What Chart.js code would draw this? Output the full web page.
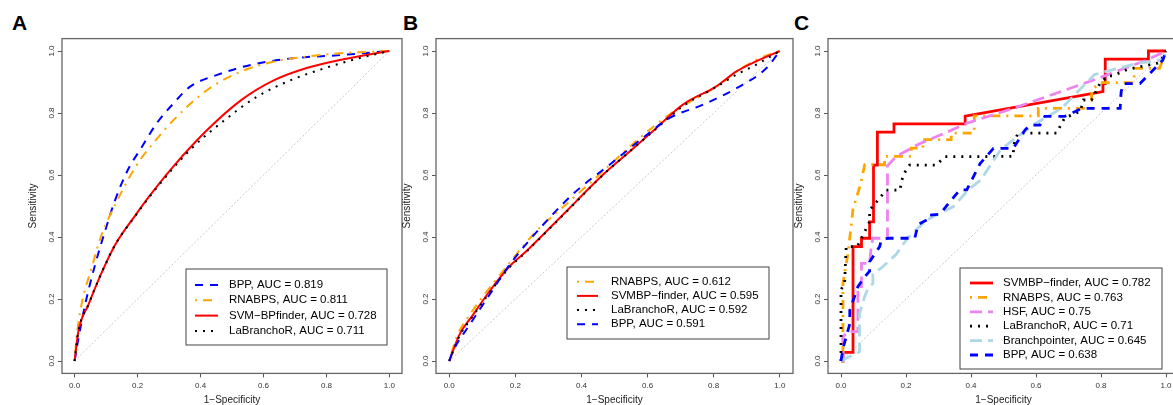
<!DOCTYPE html>
<html>
<head>
<meta charset="utf-8">
<script src="https://cdn.jsdelivr.net/npm/chart.js@4/dist/chart.umd.min.js"></script>
<style>
  html, body { margin: 0; padding: 0; background: #fff; overflow: hidden; width: 1173px; height: 405px; }
  canvas { position: absolute; left: 0; top: 0; }
  .tag { position: absolute; top: 11px; font: bold 21px "Liberation Sans", Arial, sans-serif; color: #000; }
</style>
</head>
<body>
<div class="tag" style="left:12px">A</div>
<div class="tag" style="left:403px">B</div>
<div class="tag" style="left:794px">C</div>
<canvas id="chartA" width="1190" height="405"></canvas>
<canvas id="chartB" width="1190" height="405"></canvas>
<canvas id="chartC" width="1190" height="405"></canvas>
<script>
const FONT = '"Liberation Sans", Arial, sans-serif';

// axis ticks (both axes, all panels)
const tickValues = [0, 0.2, 0.4, 0.6, 0.8, 1.0];
const tickLabels = ["0.0", "0.2", "0.4", "0.6", "0.8", "1.0"];
const diagonal = [[0, 0], [1, 1]];

// panel A : [1-specificity, sensitivity]
const namesA = ["BPP", "RNABPS", "SVM−BPfinder", "LaBranchoR"];
const aucA = ["0.819", "0.811", "0.728", "0.711"];
const keysA = ["bpp", "rnabps", "svm", "labranchor"];
const aBPP = [[0,0],[0.01,0.06],[0.033,0.18],[0.065,0.31],[0.097,0.42],[0.129,0.52],[0.171,0.62],[0.208,0.681],[0.261,0.767],[0.314,0.831],[0.367,0.885],[0.453,0.923],[0.559,0.955],[0.687,0.976],[0.847,0.987],[1,1]];
const aRNABPS = [[0,0],[0.006,0.074],[0.022,0.182],[0.054,0.3],[0.086,0.408],[0.129,0.504],[0.17,0.585],[0.208,0.648],[0.26,0.715],[0.314,0.777],[0.421,0.874],[0.527,0.933],[0.634,0.966],[0.74,0.982],[0.847,0.993],[1,1]];
const aSVM = [[0,0],[0.012,0.096],[0.044,0.182],[0.086,0.285],[0.129,0.375],[0.193,0.47],[0.24,0.535],[0.314,0.628],[0.421,0.745],[0.527,0.84],[0.634,0.906],[0.74,0.946],[0.847,0.972],[0.953,0.992],[1,1]];
const aLaBranchoR = [[0,0],[0.012,0.096],[0.044,0.182],[0.086,0.285],[0.129,0.375],[0.193,0.468],[0.25,0.545],[0.367,0.681],[0.474,0.775],[0.58,0.853],[0.687,0.906],[0.793,0.944],[0.9,0.976],[1,1]];

// panel B
const namesB = ["RNABPS", "SVMBP−finder", "LaBranchoR", "BPP"];
const aucB = ["0.612", "0.595", "0.592", "0.591"];
const keysB = ["rnabps", "svm", "labranchor", "bpp"];
const bRNABPS = [[0,0],[0.021,0.074],[0.062,0.149],[0.162,0.289],[0.263,0.418],[0.364,0.515],[0.465,0.612],[0.566,0.71],[0.667,0.796],[0.768,0.86],[0.818,0.891],[0.869,0.934],[0.94,0.977],[1,1]];
const bSVM = [[0,0],[0.031,0.085],[0.072,0.149],[0.122,0.225],[0.178,0.3],[0.233,0.354],[0.304,0.429],[0.384,0.515],[0.465,0.601],[0.546,0.676],[0.627,0.752],[0.707,0.827],[0.808,0.886],[0.869,0.934],[0.929,0.967],[1,1]];
const bLaBranchoR = [[0,0],[0.031,0.08],[0.072,0.145],[0.122,0.22],[0.178,0.297],[0.233,0.352],[0.304,0.427],[0.384,0.513],[0.465,0.6],[0.546,0.676],[0.627,0.75],[0.707,0.822],[0.808,0.884],[0.869,0.924],[0.929,0.956],[1,1]];
const bBPP = [[0,0],[0.011,0.031],[0.062,0.117],[0.122,0.214],[0.183,0.311],[0.294,0.451],[0.384,0.548],[0.485,0.633],[0.586,0.72],[0.667,0.784],[0.768,0.827],[0.869,0.88],[0.96,0.945],[1,1]];

// panel C
const namesC = ["SVMBP−finder", "RNABPS", "HSF", "LaBranchoR", "Branchpointer", "BPP"];
const aucC = ["0.782", "0.763", "0.75", "0.71", "0.645", "0.638"];
const keysC = ["svm", "rnabps", "hsf", "labranchor", "branchpointer", "bpp"];
const cSVM = [[0,0],[0.006,0],[0.006,0.028],[0.037,0.028],[0.037,0.369],[0.063,0.369],[0.063,0.396],[0.088,0.396],[0.088,0.449],[0.1,0.449],[0.1,0.632],[0.112,0.632],[0.112,0.738],[0.163,0.738],[0.163,0.765],[0.382,0.765],[0.382,0.79],[0.806,0.869],[0.806,0.895],[0.813,0.895],[0.813,0.974],[0.946,0.974],[0.946,1],[1,1]];
const cRNABPS = [[0,0],[0.006,0],[0.006,0.25],[0.022,0.35],[0.037,0.49],[0.06,0.57],[0.073,0.633],[0.134,0.633],[0.134,0.66],[0.216,0.66],[0.216,0.687],[0.252,0.687],[0.252,0.714],[0.339,0.714],[0.339,0.735],[0.41,0.735],[0.41,0.791],[0.607,0.791],[0.607,0.815],[0.771,0.815],[0.771,0.874],[0.797,0.898],[0.9,0.898],[0.905,0.944],[0.98,0.944],[0.99,0.971],[1,1]];
const cHSF = [[0,0],[0.006,0],[0.006,0.078],[0.022,0.095],[0.052,0.095],[0.052,0.24],[0.063,0.24],[0.063,0.315],[0.088,0.315],[0.093,0.369],[0.098,0.396],[0.143,0.396],[0.143,0.63],[0.17,0.66],[0.24,0.7],[0.33,0.74],[0.387,0.767],[0.53,0.815],[0.776,0.906],[0.941,0.971],[1,1]];
const cLaBranchoR = [[0,0],[0,0.23],[0.011,0.25],[0.016,0.369],[0.05,0.369],[0.063,0.396],[0.088,0.449],[0.088,0.487],[0.114,0.519],[0.139,0.551],[0.181,0.551],[0.191,0.6],[0.211,0.632],[0.293,0.632],[0.319,0.659],[0.529,0.66],[0.534,0.71],[0.545,0.735],[0.663,0.735],[0.688,0.784],[0.736,0.805],[0.746,0.842],[0.771,0.842],[0.797,0.895],[0.82,0.92],[0.836,0.92],[0.88,0.94],[0.906,0.946],[0.98,0.962],[1,1]];
const cBranchpointer = [[0,0],[0.057,0.03],[0.057,0.153],[0.073,0.208],[0.083,0.234],[0.098,0.25],[0.098,0.28],[0.124,0.3],[0.17,0.344],[0.18,0.36],[0.206,0.398],[0.264,0.455],[0.305,0.476],[0.346,0.498],[0.39,0.55],[0.43,0.584],[0.49,0.68],[0.53,0.713],[0.59,0.761],[0.68,0.816],[0.76,0.903],[0.78,0.924],[0.91,0.96],[0.99,0.971],[1,1]];
const cBPP = [[0,0],[0.006,0.04],[0.027,0.12],[0.027,0.163],[0.052,0.24],[0.073,0.272],[0.088,0.29],[0.088,0.32],[0.119,0.369],[0.124,0.39],[0.145,0.396],[0.227,0.396],[0.237,0.44],[0.264,0.455],[0.268,0.47],[0.305,0.474],[0.34,0.52],[0.366,0.552],[0.387,0.552],[0.428,0.637],[0.469,0.686],[0.53,0.686],[0.566,0.745],[0.582,0.761],[0.612,0.761],[0.627,0.789],[0.688,0.789],[0.741,0.815],[0.859,0.815],[0.862,0.869],[0.869,0.895],[0.92,0.895],[0.99,0.97],[1,1]];

// line look per method
const styles = {
  bpp:           { color: "#0000FF", dash: [8, 7] },
  rnabps:        { color: "#FFA500", dash: [2, 6, 9, 6] },
  svm:           { color: "#FF0000", dash: [] },
  labranchor:    { color: "#000000", dash: [2, 6] },
  hsf:           { color: "#EE82EE", dash: [12, 6] },
  branchpointer: { color: "#ADD8E6", dash: [12, 6] }
};

// draws the box round the plot region
const frame = {
  id: "frame",
  afterDatasetsDraw(chart) {
    const { ctx, chartArea: a } = chart;
    ctx.save();
    ctx.strokeStyle = "#666";
    ctx.lineWidth = 1.3;
    ctx.strokeRect(a.left, a.top, a.right - a.left, a.bottom - a.top);
    ctx.restore();
  }
};

// R-style legend box in the lower right
const boxLegend = {
  id: "boxLegend",
  afterDraw(chart, args, o) {
    const { ctx, chartArea } = chart;
    const x0 = chartArea.left + o.left, y0 = chartArea.top + o.top;
    ctx.save();
    ctx.fillStyle = "#fff";
    ctx.fillRect(x0, y0, o.width, o.height);
    ctx.strokeStyle = "#444";
    ctx.lineWidth = 1;
    ctx.strokeRect(x0, y0, o.width, o.height);
    ctx.font = "11.5px " + FONT;
    ctx.textBaseline = "middle";
    chart.data.datasets.forEach(ds => {
      if (ds.legendRow === undefined) return;
      const y = y0 + o.row0 + ds.legendRow * o.gap;
      ctx.beginPath();
      ctx.setLineDash(ds.borderDash);
      ctx.strokeStyle = ds.borderColor;
      ctx.lineWidth = ds.borderWidth;
      ctx.moveTo(x0 + o.lineX0, y);
      ctx.lineTo(x0 + o.lineX1, y);
      ctx.stroke();
      ctx.setLineDash([]);
      ctx.fillStyle = "#000";
      ctx.fillText(ds.label, x0 + o.textX, y);
    });
    ctx.restore();
  }
};

function setTicks(axis) {
  axis.ticks = tickValues.map(v => ({ value: v }));
}

function axisOpts(title, isY) {
  return {
    type: "linear",
    min: -0.04,
    max: 1.04,
    afterBuildTicks: setTicks,
    afterFit: isY ? s => { s.width = 62; } : s => { s.height = 31.6; },
    border: { display: false },
    grid: { drawOnChartArea: false, drawTicks: true, tickLength: 4, color: "#555" },
    ticks: {
      callback: (v, i) => tickLabels[i],
      font: { family: FONT, size: 8 },
      color: "#333",
      autoSkip: false,
      padding: isY ? 1 : 4,
      minRotation: isY ? 90 : 0,
      maxRotation: isY ? 90 : 0,
      crossAlign: isY ? "center" : "near"
    },
    title: {
      display: true,
      text: title,
      color: "#222",
      font: { family: FONT, size: 10 },
      padding: isY ? { top: 27 } : { bottom: -1.5 }
    }
  };
}

function makeChart(id, padLeft, padRight, names, aucs, keys, series, width, legend) {
  const datasets = series.map((pts, i) => ({
    label: names[i] + ", AUC = " + aucs[i],
    data: pts.map(p => ({ x: p[0], y: p[1] })),
    borderColor: styles[keys[i]].color,
    borderDash: styles[keys[i]].dash,
    borderWidth: width,
    cubicInterpolationMode: legend.smooth ? "monotone" : "default",
    showLine: true,
    pointRadius: 0,
    order: -i,
    legendRow: i
  }));
  datasets.push({
    data: diagonal.map(p => ({ x: p[0], y: p[1] })),
    borderColor: "#c8c8c8",
    borderDash: [2, 2],
    borderWidth: 1,
    showLine: true,
    pointRadius: 0,
    order: 10
  });

  return new Chart(document.getElementById(id), {
    type: "scatter",
    data: { datasets },
    options: {
      responsive: false,
      animation: false,
      events: [],
      layout: { padding: { left: padLeft, right: padRight, top: 38.6, bottom: 0 } },
      plugins: {
        legend: { display: false },
        tooltip: { enabled: false },
        boxLegend: legend
      },
      scales: {
        x: axisOpts("1−Specificity", false),
        y: axisOpts("Sensitivity", true)
      }
    },
    plugins: [frame, boxLegend]
  });
}

makeChart("chartA", 0, 788, namesA, aucA, keysA,
  [aBPP, aRNABPS, aSVM, aLaBranchoR], 2,
  { smooth: true, left: 124, top: 230.4, width: 201, height: 76, row0: 16, gap: 15.3, lineX0: 9, lineX1: 32, textX: 43 });

makeChart("chartB", 374, 397, namesB, aucB, keysB,
  [bRNABPS, bSVM, bLaBranchoR, bBPP], 2,
  { smooth: true, left: 131, top: 228.4, width: 202, height: 72, row0: 14.7, gap: 14.2, lineX0: 10, lineX1: 31, textX: 44 });

makeChart("chartC", 766, 11, namesC, aucC, keysC,
  [cSVM, cRNABPS, cHSF, cLaBranchoR, cBranchpointer, cBPP], 2.8,
  { smooth: false, left: 132, top: 229.4, width: 202, height: 101, row0: 15, gap: 14.4, lineX0: 10, lineX1: 33, textX: 43 });
</script>
</body>
</html>
